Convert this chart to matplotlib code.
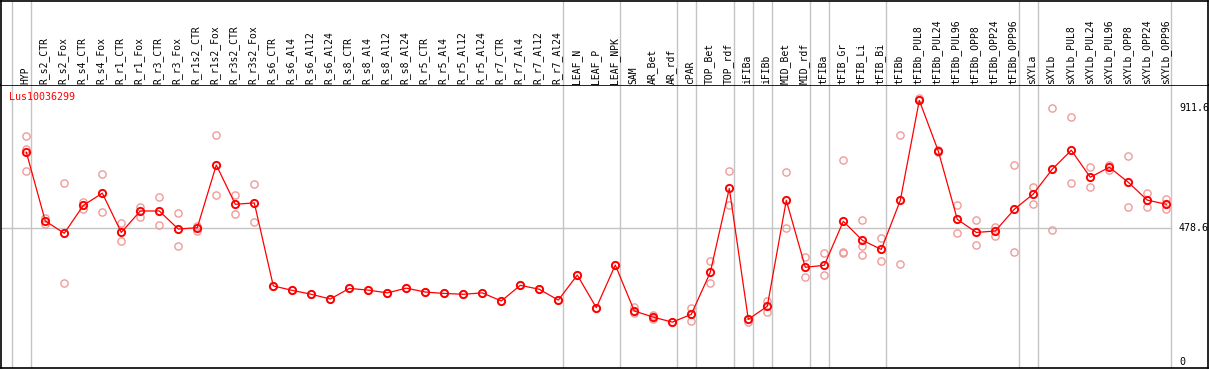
import numpy as np
import matplotlib
matplotlib.use('Agg')
import matplotlib.pyplot as plt

W, H, DPI = 1209, 370, 100

gene = 'Lus10036299'
labels = ['HYP', 'R_s2_CTR', 'R_s2_Fox', 'R_s4_CTR', 'R_s4_Fox', 'R_r1_CTR', 'R_r1_Fox',
          'R_r3_CTR', 'R_r3_Fox', 'R_r1s2_CTR', 'R_r1s2_Fox', 'R_r3s2_CTR', 'R_r3s2_Fox',
          'R_s6_CTR', 'R_s6_Al4', 'R_s6_Al12', 'R_s6_Al24', 'R_s8_CTR', 'R_s8_Al4',
          'R_s8_Al12', 'R_s8_Al24', 'R_r5_CTR', 'R_r5_Al4', 'R_r5_Al12', 'R_r5_Al24',
          'R_r7_CTR', 'R_r7_Al4', 'R_r7_Al12', 'R_r7_Al24', 'LEAF_N', 'LEAF_P', 'LEAF_NPK',
          'SAM', 'AR_Bet', 'AR_rdf', 'cPAR', 'TOP_Bet', 'TOP_rdf', 'iFIBa', 'iFIBb',
          'MID_Bet', 'MID_rdf', 'tFIBa', 'tFIB_Gr', 'tFIB_Li', 'tFIB_Bi', 'tFIBb',
          'tFIBb_PUL8', 'tFIBb_PUL24', 'tFIBb_PUL96', 'tFIBb_OPP8', 'tFIBb_OPP24',
          'tFIBb_OPP96', 'sXYLa', 'sXYLb', 'sXYLb_PUL8', 'sXYLb_PUL24', 'sXYLb_PUL96',
          'sXYLb_OPP8', 'sXYLb_OPP24', 'sXYLb_OPP96']
group_sizes = [1, 28, 3, 3, 1, 2, 1, 1, 2, 1, 3, 7, 1, 7]

means = [752, 505, 461, 561, 605, 464, 541, 541, 476, 481, 706, 565, 570,
         272, 256, 242, 225, 263, 257, 247, 264, 250, 245, 242, 247, 218, 274, 260, 221,
         311, 194, 347, 182, 160, 142, 170, 321, 622, 152, 199, 579, 339, 346,
         504, 436, 403, 579, 938, 756, 511, 464, 469, 547, 602, 691, 759, 662, 698,
         644, 580, 565]

# replicate values (pale circles)
reps = [[810, 762, 684], [517, 493], [640, 281], [574, 547], [674, 536], [497, 432],
        [556, 520], [590, 490], [533, 415], [487, 470], [813, 597], [597, 529], [637, 503],
        [272], [256], [242], [225], [263], [257], [247], [264], [250], [245], [242], [247],
        [218], [274], [260], [221], [311], [194], [347],
        [195, 174], [166, 152], [142], [192, 146], [360, 281], [683, 561], [152, 143],
        [219, 180], [680, 479], [375, 303], [389, 312], [723, 395, 389], [508, 415, 382],
        [444, 360], [813, 351], [948, 938], [752, 760], [561, 461], [508, 418], [485, 452],
        [705, 393], [628, 565], [910, 472], [877, 640], [698, 626], [706, 688], [737, 554],
        [604, 554], [585, 549]]

ref_vals = [911.6, 478.6, 0]


def xd(px):
    return (px - 26.3) / 19.0


def yd(py):
    return (361.7 - py) / 0.2786


fig = plt.figure(figsize=(W / DPI, H / DPI), dpi=DPI)
ax = fig.add_axes([1 / W, (H - 368) / H, 1207 / W, 283 / H])
hx = fig.add_axes([1 / W, (H - 85) / H, 1207 / W, 84.5 / H])

for a in (ax, hx):
    a.set_xlim(xd(1), xd(1208))
    a.set_xticks([]); a.set_yticks([])
    for s in a.spines.values():
        s.set_color('black'); s.set_linewidth(1.2)
ax.set_ylim(yd(368), yd(85))
hx.set_ylim(0, 1)
hx.spines['bottom'].set_visible(False)

# group separators
bounds = np.cumsum([0] + group_sizes) - 1 + 0.23
for b in bounds:
    for a in (ax, hx):
        a.axvline(b, color='#c4c4c4', lw=1.0, zorder=0)
ax.plot([xd(1), bounds[-1]], [ref_vals[1], ref_vals[1]], color='#c4c4c4', lw=1.0, zorder=0)

x = np.arange(len(labels))
for i, r in enumerate(reps):
    ax.plot([i] * len(r), r, 'o', mfc='none', mec='#f09a9a', ms=5.2, mew=1.0, zorder=2)
ax.plot(x, means, '-', color='red', lw=0.9, zorder=3)
ax.plot(x, means, 'o', mfc='none', mec='red', ms=5.2, mew=1.4, zorder=4)

mono = 'DejaVu Sans Mono'
for i, lab in enumerate(labels):
    hx.text(i - 0.06, 0.015, lab, rotation=90, ha='center', va='bottom',
            fontsize=7, family=mono)

for v in ref_vals:
    ax.text(xd(1179), v, f'{v:g}', ha='left', va='center', fontsize=7.2, family=mono)

ax.text(xd(9), yd(97), gene, color='red', ha='left', va='center', fontsize=7.2, family=mono)

fig.savefig('out.png', dpi=DPI)
